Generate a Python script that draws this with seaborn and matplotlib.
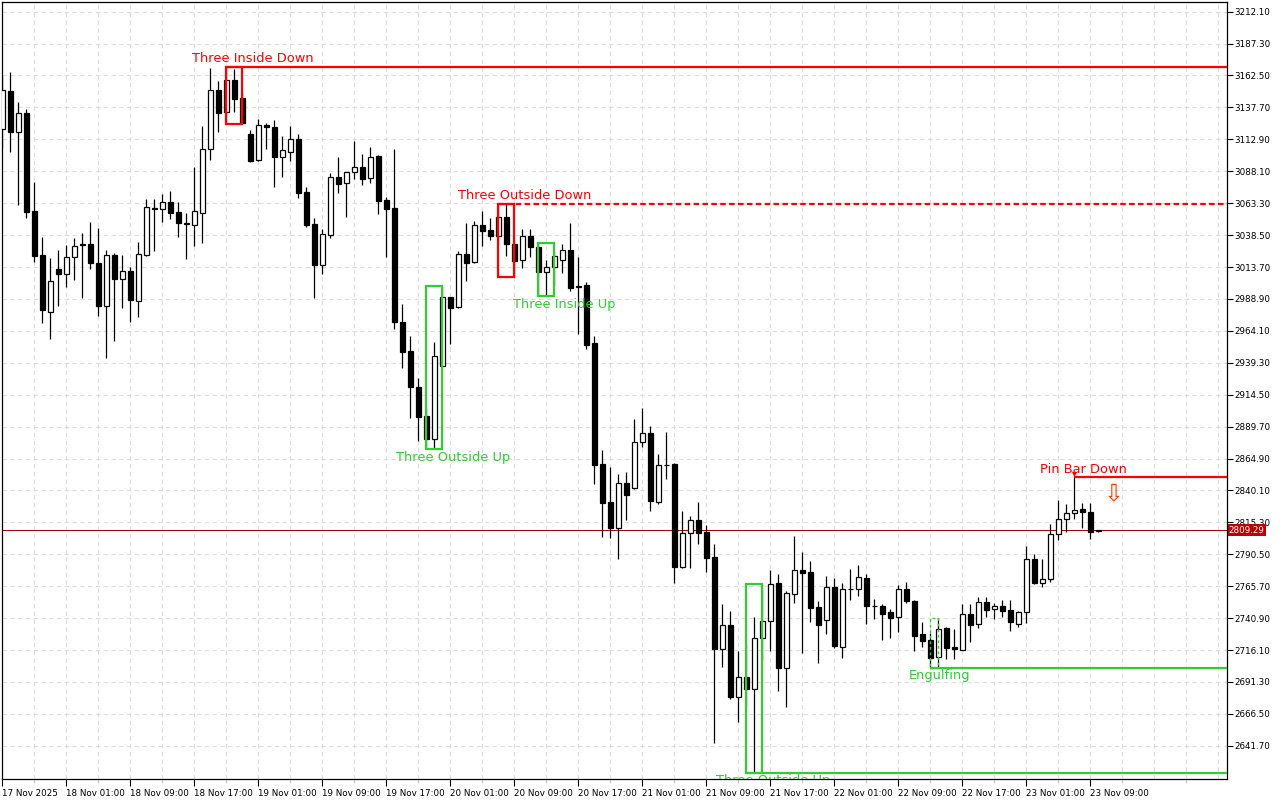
import numpy as np
import pandas as pd
import matplotlib
matplotlib.use("Agg")
import matplotlib.pyplot as plt
import seaborn as sns
from matplotlib.patches import Rectangle
import matplotlib.transforms as mtransforms

# ---------------- data (hourly candles, 17 Nov 17:00 -> 23 Nov 10:00) ----------------
opens = [3121.0, 3150.5, 3118.9, 3133.4, 3057.0, 3023.1, 2979.0, 3012.2, 3008.1, 3021.3,
         3031.0, 3031.6, 3016.8, 2983.7, 3023.1, 3004.7, 3010.6, 2987.6, 3022.8, 3059.4,
         3058.6, 3064.0, 3056.2, 3047.6, 3046.1, 3055.9, 3105.2, 3151.0, 3133.9, 3158.8,
         3144.8, 3117.1, 3096.6, 3124.1, 3122.5, 3099.4, 3103.3, 3113.2, 3072.0, 3046.9,
         3015.5, 3038.8, 3083.7, 3078.8, 3087.3, 3091.2, 3082.7, 3100.0, 3065.8, 3059.6,
         2970.8, 2948.5, 2920.5, 2898.0, 2879.9, 2937.1, 2990.2, 2982.4, 3023.6, 3017.4,
         3046.1, 3042.3, 3037.6, 3052.4, 3031.6, 3018.9, 3037.6, 3029.0, 3009.6, 3013.5,
         3018.9, 3026.7, 2998.0, 2999.5, 2954.5, 2860.4, 2831.1, 2811.2, 2845.9, 2841.8,
         2877.5, 2884.8, 2831.4, 2859.6, 2860.7, 2780.4, 2806.8, 2816.9, 2808.1, 2788.4,
         2717.2, 2735.3, 2679.4, 2694.9, 2686.1, 2725.2, 2738.9, 2768.2, 2701.8, 2760.0,
         2778.1, 2776.8, 2749.6, 2739.2, 2764.9, 2718.7, 2763.2, 2763.8, 2772.1, 2750.6,
         2750.1, 2745.7, 2742.0, 2763.3, 2754.2, 2728.4, 2723.9, 2710.5, 2733.2, 2718.5,
         2716.4, 2744.1, 2736.1, 2753.4, 2748.0, 2750.3, 2747.2, 2736.6, 2745.4, 2786.6,
         2768.0, 2771.3, 2806.1, 2818.2, 2822.4, 2825.5, 2823.4, 2808.2]
highs = [3162.9, 3165.3, 3141.9, 3136.3, 3079.8, 3037.1, 3020.7, 3026.9, 3030.8, 3036.0,
         3040.2, 3048.7, 3043.8, 3026.9, 3024.5, 3023.1, 3014.0, 3033.2, 3066.3, 3066.3,
         3070.5, 3072.6, 3064.2, 3055.9, 3091.7, 3123.1, 3168.1, 3158.3, 3169.1, 3167.4,
         3149.7, 3120.2, 3128.7, 3125.9, 3127.9, 3115.5, 3123.3, 3117.1, 3075.7, 3051.6,
         3043.3, 3086.8, 3099.2, 3087.6, 3111.6, 3101.5, 3106.7, 3101.0, 3068.4, 3105.4,
         2985.0, 2960.1, 2927.3, 2904.0, 2955.5, 2999.2, 2990.5, 3026.4, 3047.7, 3049.3,
         3057.0, 3051.8, 3061.1, 3062.7, 3034.7, 3043.0, 3043.5, 3032.6, 3018.9, 3025.9,
         3031.6, 3047.7, 3021.5, 3002.1, 2959.9, 2871.5, 2858.3, 2852.7, 2854.2, 2895.4,
         2904.0, 2890.0, 2868.2, 2885.5, 2861.2, 2824.2, 2820.3, 2830.9, 2813.3, 2798.5,
         2751.9, 2746.5, 2715.4, 2720.8, 2741.8, 2767.7, 2778.3, 2775.4, 2762.2, 2804.7,
         2792.3, 2785.1, 2754.2, 2773.6, 2771.9, 2768.4, 2778.9, 2782.0, 2775.2, 2755.5,
         2751.9, 2747.8, 2766.4, 2768.8, 2754.8, 2737.7, 2729.4, 2740.8, 2734.2, 2732.2,
         2751.9, 2751.9, 2757.6, 2757.1, 2752.9, 2755.0, 2755.0, 2746.7, 2797.0, 2790.7,
         2787.1, 2814.1, 2832.5, 2829.8, 2850.3, 2830.1, 2830.1, 2809.6]
lows = [3106.2, 3103.3, 3061.9, 3052.0, 3017.9, 2970.5, 2957.6, 2983.7, 2998.0, 3003.6,
        2989.4, 3012.2, 2975.7, 2943.0, 2956.5, 2982.1, 2971.2, 2975.1, 3022.0, 3026.4,
        3048.9, 3051.3, 3037.3, 3020.2, 3030.3, 3032.2, 3096.9, 3118.9, 3130.3, 3134.2,
        3124.9, 3095.6, 3096.0, 3105.7, 3076.1, 3083.9, 3096.3, 3067.6, 3045.1, 2989.9,
        3008.5, 3036.5, 3071.5, 3052.8, 3081.9, 3077.5, 3079.2, 3055.2, 3021.7, 2965.3,
        2935.0, 2896.0, 2878.8, 2872.3, 2872.3, 2936.6, 2953.9, 2982.0, 3003.1, 3017.0,
        3030.1, 3034.7, 3030.8, 3022.3, 3005.7, 3013.0, 3021.7, 2991.2, 2991.2, 2999.0,
        3008.8, 2995.3, 2961.9, 2950.3, 2845.4, 2804.2, 2803.4, 2787.1, 2817.4, 2841.3,
        2874.1, 2824.4, 2829.8, 2849.3, 2768.0, 2780.0, 2780.2, 2798.1, 2777.0, 2644.1,
        2703.2, 2678.3, 2660.4, 2671.6, 2620.8, 2708.4, 2715.6, 2684.3, 2672.1, 2752.4,
        2713.6, 2738.1, 2705.8, 2728.8, 2717.9, 2710.2, 2755.2, 2758.3, 2736.6, 2740.0,
        2723.7, 2725.5, 2730.1, 2752.4, 2715.6, 2718.7, 2702.4, 2702.4, 2708.9, 2708.9,
        2716.0, 2722.6, 2733.0, 2742.0, 2740.5, 2742.0, 2731.1, 2734.3, 2737.4, 2767.4,
        2765.3, 2768.8, 2801.6, 2807.6, 2817.7, 2810.7, 2802.6, 2807.9]
closes = [3151.3, 3118.9, 3133.2, 3056.5, 3022.3, 2980.6, 3002.9, 3008.1, 3021.3, 3029.8,
          3031.4, 3017.1, 2983.4, 3022.8, 3004.7, 3010.6, 2988.3, 3023.8, 3060.1, 3058.8,
          3064.0, 3055.9, 3048.2, 3047.2, 3057.0, 3105.4, 3151.0, 3133.6, 3158.8, 3144.5,
          3125.4, 3096.3, 3123.8, 3122.3, 3099.4, 3104.4, 3113.0, 3071.5, 3046.4, 3015.5,
          3039.2, 3083.7, 3078.5, 3087.3, 3091.2, 3082.3, 3099.0, 3065.3, 3058.6, 2971.2,
          2947.9, 2920.1, 2897.4, 2879.9, 2944.4, 2990.2, 2982.1, 3023.6, 3017.1, 3046.1,
          3041.9, 3037.6, 3052.4, 3031.4, 3018.6, 3037.6, 3029.0, 3009.6, 3013.5, 3021.9,
          3026.6, 2997.7, 2998.6, 2953.4, 2859.9, 2830.6, 2811.2, 2845.9, 2836.8, 2877.8,
          2884.8, 2832.2, 2859.9, 2860.2, 2780.9, 2806.8, 2816.9, 2806.7, 2787.9, 2717.2,
          2735.3, 2679.6, 2694.9, 2686.1, 2725.2, 2738.5, 2767.2, 2702.4, 2760.4, 2778.1,
          2776.2, 2749.0, 2735.8, 2764.9, 2719.3, 2763.3, 2763.8, 2772.6, 2750.6, 2750.0,
          2744.4, 2741.2, 2763.3, 2754.0, 2727.3, 2723.4, 2710.2, 2732.7, 2717.9, 2716.7,
          2743.9, 2735.8, 2753.2, 2747.5, 2750.3, 2746.7, 2738.1, 2745.4, 2786.6, 2768.0,
          2771.3, 2806.1, 2818.2, 2822.4, 2825.2, 2823.1, 2807.6, 2809.29]

current_price = 2809.29

price_ticks = [3212.10, 3187.30, 3162.50, 3137.70, 3112.90, 3088.10, 3063.30, 3038.50,
               3013.70, 2988.90, 2964.10, 2939.30, 2914.50, 2889.70, 2864.90, 2840.10,
               2815.30, 2790.50, 2765.70, 2740.90, 2716.10, 2691.30, 2666.50, 2641.70]

time_labels = ["17 Nov 2025", "18 Nov 01:00", "18 Nov 09:00", "18 Nov 17:00",
               "19 Nov 01:00", "19 Nov 09:00", "19 Nov 17:00", "20 Nov 01:00",
               "20 Nov 09:00", "20 Nov 17:00", "21 Nov 01:00", "21 Nov 09:00",
               "21 Nov 17:00", "22 Nov 01:00", "22 Nov 09:00", "22 Nov 17:00",
               "23 Nov 01:00", "23 Nov 09:00"]

# candlestick patterns: name, first bar, last bar, direction, extended level line
pattern_names = ["Three Inside Down", "Three Outside Down", "Three Inside Up",
                 "Three Outside Up", "Three Outside Up", "Engulfing", "Pin Bar Down"]
pattern_first = [28, 62, 67, 53, 93, 116, 134]
pattern_last = [30, 64, 69, 55, 95, 117, 134]
pattern_bull = [False, False, True, True, True, True, False]
pattern_line = ["solid", "dashed", None, None, "solid", "solid", "solid"]

# ---------------- styling ----------------
sns.set_theme(style="white")
plt.rcParams["font.family"] = ["DejaVu Sans"]

RED = "#ff0000"
GREEN = "#32cd32"

df = pd.DataFrame({"open": opens, "high": highs, "low": lows, "close": closes})
df["t"] = pd.date_range("2025-11-17 17:00", periods=len(df), freq="h")
df["x"] = np.arange(len(df))
df["bull"] = df["close"] >= df["open"]

fig = plt.figure(figsize=(12.8, 8), dpi=100)
ax = fig.add_axes([2 / 1280, 21 / 800, 1225 / 1280, 777 / 800])
ax.set_facecolor("white")

xmin, xmax = -0.04, 153.09
ymin, ymax = 2615.9, 3219.6
ax.set_xlim(xmin, xmax)
ax.set_ylim(ymin, ymax)

# grid
grid_kw = dict(color="#dcdcdc", lw=0.8, ls=(0, (4, 3)), zorder=0)
for v in price_ticks:
    ax.axhline(v, **grid_kw)
for k in range(4, 154, 4):
    ax.axvline(k, **grid_kw)

# wicks
ax.vlines(df["x"], df["low"], df["high"], color="black", lw=0.9, zorder=2)

# bodies
w = 0.6
body_h = (df["close"] - df["open"]).abs().clip(lower=0.35)
body_b = df[["open", "close"]].min(axis=1)
bull = df["bull"].values
ax.bar(df["x"][bull], body_h[bull], bottom=body_b[bull], width=w,
       facecolor="white", edgecolor="black", linewidth=0.9, zorder=3)
ax.bar(df["x"][~bull], body_h[~bull], bottom=body_b[~bull], width=w,
       facecolor="black", edgecolor="black", linewidth=0.9, zorder=3)

# current price line
ax.axhline(current_price, color="#a00000", lw=0.7, zorder=1.5)

# patterns
txt_kw = dict(fontsize=9.4, ha="center", va="center", zorder=6)
ppy = (ymax - ymin) / 777.0  # price per pixel
for name, a, b, isbull, line in zip(pattern_names, pattern_first, pattern_last,
                                    pattern_bull, pattern_line):
    col = GREEN if isbull else RED
    hi = max(highs[a:b + 1])
    lo = min(lows[a:b + 1])
    if a != b:
        ls = (0, (2, 2)) if name == "Engulfing" else "solid"
        lw = 1.0 if name == "Engulfing" else 1.6
        ax.add_patch(Rectangle((a, lo), b - a, hi - lo, fill=False, edgecolor=col,
                               lw=lw, ls=ls, zorder=5))
    if line is not None:
        lvl = lo if isbull else hi
        ls = "solid" if line == "solid" else (0, (2.5, 1.5))
        ax.plot([a, xmax], [lvl, lvl], color=col, lw=1.6, ls=ls, zorder=5,
                solid_capstyle="butt")
    if isbull:
        ty = lo - 8.3 * ppy
    else:
        ty = hi + 8.0 * ppy
    if a == b:
        tx = b + 1.2
    elif b - a == 1:
        tx = b + 0.2
    else:
        tx = b + 1.3
    t = ax.text(tx, ty, name, color=col, **txt_kw)
    t.set_clip_on(True)

# pin bar marker and hollow arrow
pb = pattern_first[-1]
ax.scatter([pb], [highs[pb] + 2.2], marker="v", s=14, color=RED, zorder=7, linewidths=0)
ax.text(pb + 4.9, highs[pb] - 12.0, "\u21e9", color="#ff3c00", fontsize=17,
        ha="center", va="center", zorder=7)

# axes, ticks
for s in ax.spines.values():
    s.set_color("black")
    s.set_linewidth(0.9)
ax.yaxis.tick_right()
ax.set_yticks(price_ticks)
ax.set_yticklabels([f"{v:.2f}" for v in price_ticks])
ax.set_xticks(list(range(0, 137, 8)))
ax.set_xticklabels(time_labels, ha="left")
ax.set_xticks(list(range(4, 153, 8)), minor=True)
ax.tick_params(axis="y", which="both", direction="out", length=4, width=0.8,
               labelsize=6.3, pad=1.5, colors="black", right=True, left=False)
ax.tick_params(axis="x", which="major", direction="out", length=5, width=0.8,
               labelsize=6.3, pad=2, colors="black", bottom=True)
ax.tick_params(axis="x", which="minor", direction="out", length=3, width=0.8,
               color="#c8c8c8", bottom=True)

# current price label
trans = mtransforms.blended_transform_factory(ax.transAxes, ax.transData)
ax.text(1.0015, current_price, f"{current_price:.2f}", transform=trans, color="white",
        fontsize=6.3, ha="left", va="center", zorder=10, clip_on=False,
        bbox=dict(boxstyle="square,pad=0.15", facecolor="#c00000", edgecolor="none"))

fig.savefig("out.png", dpi=100)
